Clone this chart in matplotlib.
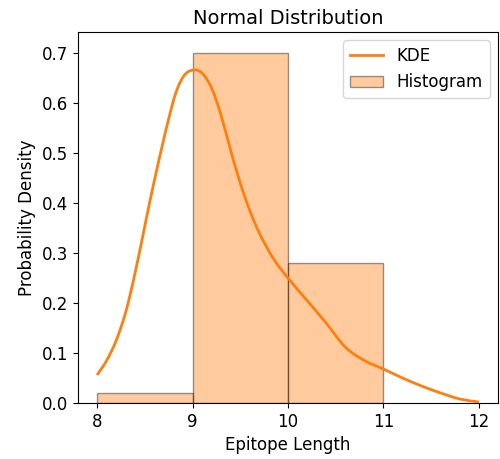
import numpy as np
import matplotlib.pyplot as plt
from matplotlib.path import Path
from matplotlib.patches import PathPatch
from matplotlib.lines import Line2D

# histogram (density) over epitope length bins
bin_edges = [8, 9, 10, 11]
bin_density = [0.02, 0.70, 0.28]

# KDE curve
kde_x = [8.0, 8.1, 8.2, 8.3, 8.4, 8.6, 8.8, 8.9, 9.0, 9.1, 9.2, 9.3,
         9.4, 9.5, 9.6, 9.7, 9.85, 10.0, 10.2, 10.4, 10.6, 10.8,
         11.0, 11.2, 11.4, 11.6, 11.8, 12.0]
kde_y = [0.056, 0.085, 0.125, 0.182, 0.262, 0.445, 0.605, 0.652, 0.666, 0.66, 0.63, 0.575,
         0.505, 0.44, 0.385, 0.34, 0.288, 0.25, 0.205, 0.16, 0.112, 0.085,
         0.068, 0.05, 0.034, 0.02, 0.008, 0.002]


def smooth_path(xs, ys):
    # catmull-rom through the read points, drawn as cubic bezier segments
    pts = np.column_stack([xs, ys])
    verts = [pts[0]]
    codes = [Path.MOVETO]
    n = len(pts)
    for i in range(n - 1):
        p0 = pts[max(i - 1, 0)]
        p1 = pts[i]
        p2 = pts[i + 1]
        p3 = pts[min(i + 2, n - 1)]
        h = p2[0] - p1[0]
        # tangents scaled to the local step so uneven spacing stays smooth
        t1 = (p2 - p0) / (p2[0] - p0[0]) if i > 0 else (p2 - p1) / h
        t2 = (p3 - p1) / (p3[0] - p1[0]) if i < n - 2 else (p2 - p1) / h
        c1 = p1 + t1 * h / 3
        c2 = p2 - t2 * h / 3
        verts += [c1, c2, p2]
        codes += [Path.CURVE4] * 3
    return Path(verts, codes)


fig = plt.figure(figsize=(5, 4.59), dpi=100)
ax = fig.add_axes([0.156, 0.122, 0.84, 0.808])

ax.add_patch(PathPatch(smooth_path(kde_x, kde_y), fill=False,
                       edgecolor='C1', lw=2, zorder=3))
widths = np.diff(bin_edges)
bars = ax.bar(bin_edges[:-1], bin_density, width=widths, align='edge',
              color='C1', edgecolor='black', alpha=0.4, label='Histogram')

ax.set_xlim(7.8, 12.2)
ax.set_ylim(0, 0.742)
ax.set_xticks([8, 9, 10, 11, 12])
ax.tick_params(labelsize=12)
ax.set_title('Normal Distribution', fontsize=14)
ax.set_xlabel('Epitope Length', fontsize=12)
ax.set_ylabel('Probability Density', fontsize=12)

kde_handle = Line2D([], [], color='C1', lw=2)
ax.legend([kde_handle, bars], ['KDE', 'Histogram'], loc='upper right', fontsize=12)

fig.savefig('out.png', dpi=100)
